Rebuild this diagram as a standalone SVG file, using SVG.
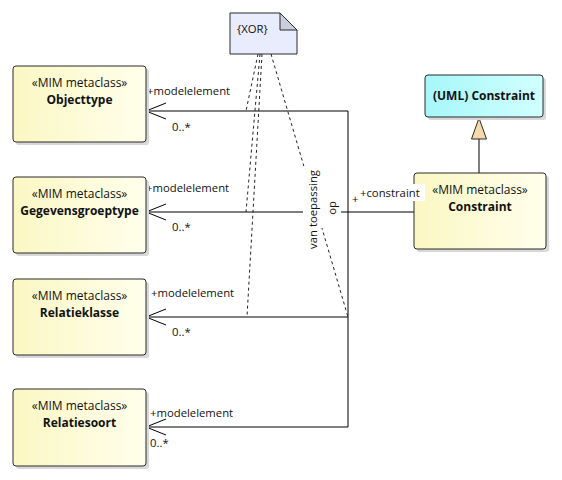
<svg xmlns="http://www.w3.org/2000/svg" width="562" height="480" viewBox="0 0 562 480">
  <defs>
    <linearGradient id="gYellow" x1="0" y1="0" x2="1" y2="0">
      <stop offset="0" stop-color="#FBF7C4"/>
      <stop offset="1" stop-color="#FFFFEC"/>
    </linearGradient>
    <linearGradient id="gCyan" x1="0" y1="0" x2="1" y2="0">
      <stop offset="0" stop-color="#A6F7FA"/>
      <stop offset="1" stop-color="#D2FFFF"/>
    </linearGradient>
    <style>
      .box { stroke: #2b2b2b; stroke-width: 1; }
      .shadow { fill: #d8d8d8; }
      .stereo { font-family: "Open Sans", "Liberation Sans", sans-serif; font-size: 12px; fill: #111; text-anchor: middle; }
      .name { font-family: "Open Sans", "Liberation Sans", sans-serif; font-size: 12px; font-weight: bold; fill: #111; text-anchor: middle; }
      .lbl { font-family: "Open Sans", "Liberation Sans", sans-serif; font-size: 11.3px; fill: #111; }
      .line { stroke: #000; stroke-width: 1; fill: none; }
      .dash { stroke: #222; stroke-width: 1; fill: none; stroke-dasharray: 3 3; }
    </style>
  </defs>
  <rect width="562" height="480" fill="#ffffff"/>

  <!-- connectors -->
  <g id="connectors">
    <!-- association trunk -->
    <polyline class="line" points="146,111 348,111 348,427 146,427"/>
    <line class="line" x1="146" y1="212" x2="414" y2="212"/>
    <line class="line" x1="146" y1="317" x2="348" y2="317"/>
    <!-- open arrowheads -->
    <polyline class="line" points="166,103 146,111 166,119"/>
    <polyline class="line" points="166,204 146,212 166,220"/>
    <polyline class="line" points="166,309 146,317 166,325"/>
    <polyline class="line" points="166,419 146,427 166,435"/>
    <!-- XOR constraint anchors -->
    <line class="dash" x1="258" y1="54" x2="246" y2="111"/>
    <line class="dash" x1="260" y1="54" x2="246" y2="212"/>
    <line class="dash" x1="262" y1="54" x2="247" y2="317"/>
    <line class="dash" x1="271" y1="54" x2="348" y2="317"/>
    <!-- generalization -->
    <line class="line" x1="479" y1="139" x2="479" y2="173"/>
    <polygon points="479,118 471.5,139 486.5,139" fill="#F6D9AA" stroke="#2b2b2b" stroke-width="1"/>

    <!-- association name -->
    <rect x="303" y="166" width="38" height="62" fill="#ffffff"/>
    <text class="lbl" transform="translate(322,208) rotate(-90)" text-anchor="middle">
      <tspan x="0" y="-5">van toepassing</tspan>
      <tspan x="0" y="14">op</tspan>
    </text>

    <!-- role labels -->
    <text class="lbl" x="147" y="95">+modelelement</text>
    <text class="lbl" x="172" y="131">0..*</text>
    <text class="lbl" x="146" y="192">+modelelement</text>
    <text class="lbl" x="172" y="231">0..*</text>
    <text class="lbl" x="151" y="297">+modelelement</text>
    <text class="lbl" x="172" y="336">0..*</text>
    <text class="lbl" x="150" y="417">+modelelement</text>
    <text class="lbl" x="150" y="447">0..*</text>
  </g>

  <!-- XOR note -->
  <g id="note-xor">
    <polygon points="230,13 280,13 297,30 297,54 230,54" fill="#E9ECFC" stroke="#2b2b2b" stroke-width="1"/>
    <polygon points="280,13 297,30 280,30" fill="#CBCDDF" stroke="#2b2b2b" stroke-width="1"/>
    <text class="lbl" x="237" y="33">{XOR}</text>
  </g>

  <g id="objecttype">
    <rect class="shadow" x="16" y="69" width="133" height="76" rx="3"/>
    <rect class="box" x="13" y="66" width="133" height="76" rx="3" fill="url(#gYellow)"/>
    <text class="stereo" x="79.5" y="87">«MIM metaclass»</text>
    <text class="name" x="79.5" y="104">Objecttype</text>
  </g>

  <g id="gegevensgroeptype">
    <rect class="shadow" x="16" y="180" width="133" height="76" rx="3"/>
    <rect class="box" x="13" y="177" width="133" height="76" rx="3" fill="url(#gYellow)"/>
    <text class="stereo" x="79.5" y="198">«MIM metaclass»</text>
    <text class="name" x="79.5" y="215">Gegevensgroeptype</text>
  </g>

  <g id="relatieklasse">
    <rect class="shadow" x="16" y="282" width="133" height="76" rx="3"/>
    <rect class="box" x="13" y="279" width="133" height="76" rx="3" fill="url(#gYellow)"/>
    <text class="stereo" x="79.5" y="300">«MIM metaclass»</text>
    <text class="name" x="79.5" y="317">Relatieklasse</text>
  </g>

  <g id="relatiesoort">
    <rect class="shadow" x="16" y="392" width="133" height="77" rx="3"/>
    <rect class="box" x="13" y="389" width="133" height="77" rx="3" fill="url(#gYellow)"/>
    <text class="stereo" x="79.5" y="410">«MIM metaclass»</text>
    <text class="name" x="79.5" y="427">Relatiesoort</text>
  </g>

  <g id="uml-constraint">
    <rect class="shadow" x="428" y="78" width="118" height="42" rx="3"/>
    <rect class="box" x="425" y="75" width="118" height="42" rx="3" fill="url(#gCyan)"/>
    <text class="name" x="484" y="100">(UML) Constraint</text>
  </g>

  <g id="constraint">
    <rect class="shadow" x="417" y="176" width="132" height="76" rx="3"/>
    <rect class="box" x="414" y="173" width="132" height="76" rx="3" fill="url(#gYellow)"/>
    <text class="stereo" x="480" y="194">«MIM metaclass»</text>
    <text class="name" x="480" y="211">Constraint</text>
  </g>

  <!-- constraint role label, drawn over the box edge -->
  <g id="constraint-role">
    <rect x="358" y="184" width="67" height="17" fill="#ffffff"/>
    <text class="lbl" x="352" y="203">+</text>
    <text class="lbl" x="360" y="197">+constraint</text>
  </g>
</svg>
